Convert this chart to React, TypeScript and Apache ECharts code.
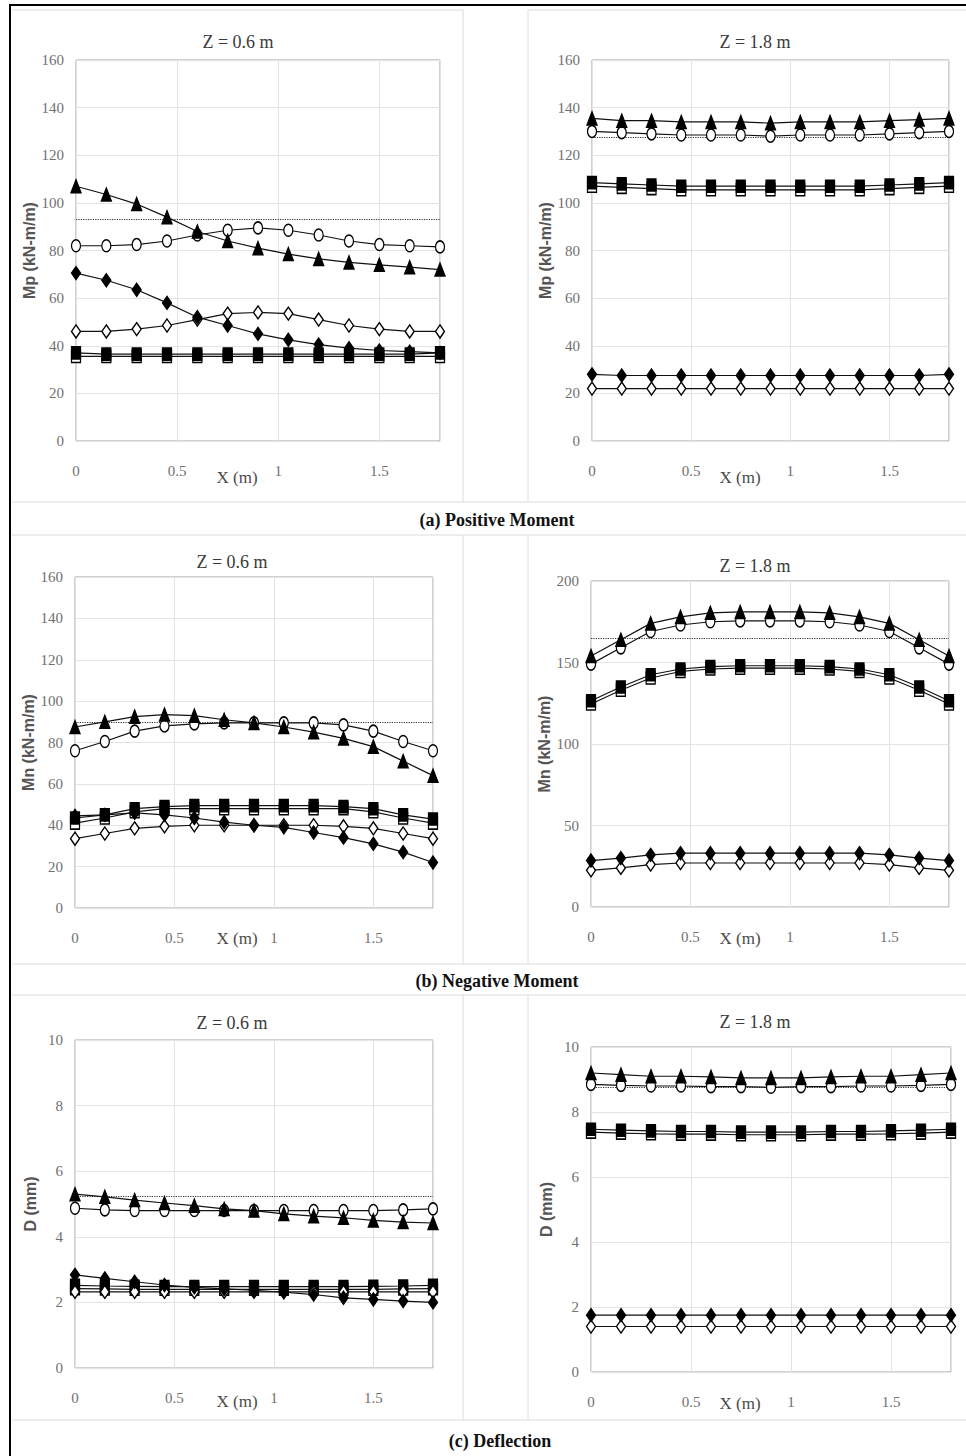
import React, { useEffect, useRef } from "react";
import * as echarts from "echarts";

// Positions along the slab (m)
const X_POS = [0, 0.15, 0.3, 0.45, 0.6, 0.75, 0.9, 1.05, 1.2, 1.35, 1.5, 1.65, 1.8];

// (a) Positive moment Mp, Z = 0.6 m
const mpZ06Tri = [107, 103.5, 99.5, 94, 88, 84, 81, 78.5, 76.5, 75, 74, 73, 72];
const mpZ06Cir = [82, 82, 82.5, 84, 86.5, 88.5, 89.5, 88.5, 86.5, 84, 82.5, 82, 81.5];
const mpZ06Sq = [37, 36.5, 36.5, 36.5, 36.5, 36.5, 36.5, 36.5, 36.5, 36.5, 36.5, 36.5, 37];
const mpZ06OSq = [35.5, 35.5, 35.5, 35.5, 35.5, 35.5, 35.5, 35.5, 35.5, 35.5, 35.5, 35.5, 35.5];
const mpZ06Dia = [70.5, 67.5, 63.5, 58, 52, 48.5, 45, 42.5, 40.5, 39, 38, 37.5, 37];
const mpZ06ODia = [46, 46, 47, 48.5, 51, 53.5, 54, 53.5, 51, 48.5, 47, 46, 46];
const mpZ06Ref = 93;

// (a) Positive moment Mp, Z = 1.8 m
const mpZ18Tri = [135.5, 134.5, 134.5, 134, 134, 134, 133.5, 134, 134, 134, 134.5, 135, 135.5];
const mpZ18Cir = [130, 129.5, 129, 128.5, 128.5, 128.5, 128, 128.5, 128.5, 128.5, 129, 129.5, 130];
const mpZ18Sq = [108.5, 108, 107.5, 107, 107, 107, 107, 107, 107, 107, 107.5, 108, 108.5];
const mpZ18OSq = [107, 106.5, 106, 105.5, 105.5, 105.5, 105.5, 105.5, 105.5, 105.5, 106, 106.5, 107];
const mpZ18Dia = [28, 27.5, 27.5, 27.5, 27.5, 27.5, 27.5, 27.5, 27.5, 27.5, 27.5, 27.5, 28];
const mpZ18ODia = [22, 22, 22, 22, 22, 22, 22, 22, 22, 22, 22, 22, 22];
const mpZ18Ref = 127.5;

// (b) Negative moment Mn, Z = 0.6 m
const mnZ06Tri = [87.5, 90, 92.5, 93.5, 93, 91, 89.5, 87.5, 85, 82, 78, 71, 64];
const mnZ06Cir = [76, 80.5, 85.5, 88, 89, 89.5, 89.5, 89.5, 89.5, 88.5, 85.5, 80.5, 76];
const mnZ06Sq = [43.5, 45, 48, 49, 49.5, 49.5, 49.5, 49.5, 49.5, 49, 48, 45, 43];
const mnZ06OSq = [41, 43.5, 46.5, 48, 48, 48, 48, 48, 48, 48, 46.5, 43.5, 41];
const mnZ06Dia = [44.5, 45, 46, 45, 43.5, 41.5, 40, 39, 36.5, 34, 31, 27, 22];
const mnZ06ODia = [33.5, 36, 38.5, 39.5, 40, 40, 40, 40, 40, 39.5, 38.5, 36, 33.5];
const mnZ06Ref = 90;

// (b) Negative moment Mn, Z = 1.8 m
const mnZ18Tri = [154, 164, 174, 178, 180.5, 181, 181, 181, 180.5, 178, 174, 164, 154];
const mnZ18Cir = [149, 159, 169, 173, 175, 175.5, 175.5, 175.5, 175, 173, 169, 159, 149];
const mnZ18Sq = [126.5, 135, 142.5, 146, 147.5, 148, 148, 148, 147.5, 146, 142.5, 135, 126.5];
const mnZ18OSq = [124.5, 133, 140.5, 144.5, 146, 146.5, 146.5, 146.5, 146, 144.5, 140.5, 133, 124.5];
const mnZ18Dia = [28.5, 30, 32, 33, 33, 33, 33, 33, 33, 33, 32, 30, 28.5];
const mnZ18ODia = [22.5, 24, 26, 27, 27, 27, 27, 27, 27, 27, 26, 24, 22.5];
const mnZ18Ref = 165;

// (c) Deflection D, Z = 0.6 m
const dZ06Tri = [5.3, 5.22, 5.12, 5.03, 4.95, 4.85, 4.8, 4.7, 4.63, 4.58, 4.5, 4.45, 4.42];
const dZ06Cir = [4.87, 4.82, 4.8, 4.8, 4.8, 4.8, 4.8, 4.8, 4.8, 4.8, 4.8, 4.82, 4.85];
const dZ06Sq = [2.52, 2.5, 2.49, 2.48, 2.48, 2.48, 2.48, 2.48, 2.48, 2.48, 2.49, 2.5, 2.52];
const dZ06OSq = [2.42, 2.41, 2.4, 2.4, 2.4, 2.4, 2.4, 2.4, 2.4, 2.4, 2.4, 2.41, 2.42];
const dZ06Dia = [2.84, 2.73, 2.63, 2.53, 2.46, 2.41, 2.37, 2.31, 2.24, 2.14, 2.09, 2.04, 2.0];
const dZ06ODia = [2.32, 2.32, 2.32, 2.32, 2.32, 2.32, 2.32, 2.32, 2.32, 2.32, 2.32, 2.32, 2.32];
const dZ06Ref = 5.25;

// (c) Deflection D, Z = 1.8 m
const dZ18Tri = [9.2, 9.15, 9.1, 9.1, 9.08, 9.05, 9.05, 9.05, 9.08, 9.1, 9.1, 9.15, 9.2];
const dZ18Cir = [8.85, 8.82, 8.8, 8.8, 8.78, 8.78, 8.76, 8.78, 8.78, 8.8, 8.8, 8.82, 8.85];
const dZ18Sq = [7.47, 7.44, 7.42, 7.4, 7.4, 7.38, 7.38, 7.38, 7.4, 7.4, 7.42, 7.44, 7.47];
const dZ18OSq = [7.38, 7.35, 7.33, 7.32, 7.32, 7.3, 7.3, 7.3, 7.32, 7.32, 7.33, 7.35, 7.38];
const dZ18Dia = [1.75, 1.75, 1.75, 1.75, 1.75, 1.75, 1.75, 1.75, 1.75, 1.75, 1.75, 1.75, 1.75];
const dZ18ODia = [1.4, 1.4, 1.4, 1.4, 1.4, 1.4, 1.4, 1.4, 1.4, 1.4, 1.4, 1.4, 1.4];
const dZ18Ref = 8.75;

const X_TICKS_INTERVAL = 0.5;
const X_MAX = 1.8;

const FONT = "'Liberation Serif', 'Times New Roman', serif";
const ELLIPSE =
  "path://M0,-1C0.552,-1,1,-0.552,1,0C1,0.552,0.552,1,0,1C-0.552,1,-1,0.552,-1,0C-1,-0.552,-0.552,-1,0,-1Z";

const KINDS: Record<string, { symbol: string; size: number[]; fill: string }> = {
  osq: { symbol: "rect", size: [9, 12], fill: "#fff" },
  sq: { symbol: "rect", size: [9, 12], fill: "#000" },
  odia: { symbol: "diamond", size: [9, 13], fill: "#fff" },
  dia: { symbol: "diamond", size: [9, 13], fill: "#000" },
  cir: { symbol: ELLIPSE, size: [9, 12], fill: "#fff" },
  tri: { symbol: "triangle", size: [10, 13], fill: "#000" },
};

const PANELS = [
  {
    grid: { left: 76, top: 60, width: 364, height: 381 },
    yMax: 160, yInt: 20, yName: "Mp (kN-m/m)", title: "Z = 0.6 m",
    titlePos: [238, 42], xNamePos: [237, 477], ref: mpZ06Ref,
    data: { osq: mpZ06OSq, sq: mpZ06Sq, odia: mpZ06ODia, dia: mpZ06Dia, cir: mpZ06Cir, tri: mpZ06Tri },
  },
  {
    grid: { left: 592, top: 60, width: 357, height: 381 },
    yMax: 160, yInt: 20, yName: "Mp (kN-m/m)", title: "Z = 1.8 m",
    titlePos: [755, 42], xNamePos: [740, 477], ref: mpZ18Ref,
    data: { osq: mpZ18OSq, sq: mpZ18Sq, odia: mpZ18ODia, dia: mpZ18Dia, cir: mpZ18Cir, tri: mpZ18Tri },
  },
  {
    grid: { left: 75, top: 577, width: 358, height: 331 },
    yMax: 160, yInt: 20, yName: "Mn (kN-m/m)", title: "Z = 0.6 m",
    titlePos: [232, 562], xNamePos: [237, 938], ref: mnZ06Ref,
    data: { osq: mnZ06OSq, sq: mnZ06Sq, odia: mnZ06ODia, dia: mnZ06Dia, cir: mnZ06Cir, tri: mnZ06Tri },
  },
  {
    grid: { left: 591, top: 581, width: 358, height: 326 },
    yMax: 200, yInt: 50, yName: "Mn (kN-m/m)", title: "Z = 1.8 m",
    titlePos: [755, 566], xNamePos: [740, 938], ref: mnZ18Ref,
    data: { osq: mnZ18OSq, sq: mnZ18Sq, odia: mnZ18ODia, dia: mnZ18Dia, cir: mnZ18Cir, tri: mnZ18Tri },
  },
  {
    grid: { left: 75, top: 1040, width: 358, height: 328 },
    yMax: 10, yInt: 2, yName: "D (mm)", title: "Z = 0.6 m",
    titlePos: [232, 1023], xNamePos: [237, 1401], ref: dZ06Ref,
    data: { osq: dZ06OSq, sq: dZ06Sq, odia: dZ06ODia, dia: dZ06Dia, cir: dZ06Cir, tri: dZ06Tri },
  },
  {
    grid: { left: 591, top: 1047, width: 360, height: 325 },
    yMax: 10, yInt: 2, yName: "D (mm)", title: "Z = 1.8 m",
    titlePos: [755, 1022], xNamePos: [740, 1403], ref: dZ18Ref,
    data: { osq: dZ18OSq, sq: dZ18Sq, odia: dZ18ODia, dia: dZ18Dia, cir: dZ18Cir, tri: dZ18Tri },
  },
];

const CAPTIONS = [
  { text: "(a) Positive Moment", x: 497, y: 520 },
  { text: "(b) Negative Moment", x: 497, y: 981 },
  { text: "(c) Deflection", x: 500, y: 1441 },
];

function buildOption() {
  const grid: any[] = [];
  const xAxis: any[] = [];
  const yAxis: any[] = [];
  const series: any[] = [];
  const graphic: any[] = [];

  PANELS.forEach((p, i) => {
    grid.push({
      ...p.grid,
      show: true,
      borderColor: "#a0a0a0",
      borderWidth: 1,
      backgroundColor: "transparent",
    });
    xAxis.push({
      type: "value",
      gridIndex: i,
      min: 0,
      max: X_MAX,
      interval: X_TICKS_INTERVAL,
      axisLine: { show: false },
      axisTick: { show: false },
      axisLabel: {
        margin: 22,
        color: "#707070",
        fontFamily: FONT,
        fontSize: 15,
        showMaxLabel: false,
      },
      splitLine: { show: true, lineStyle: { color: "#e3e3e3", width: 1 } },
    });
    yAxis.push({
      type: "value",
      gridIndex: i,
      min: 0,
      max: p.yMax,
      interval: p.yInt,
      name: p.yName,
      nameLocation: "middle",
      nameRotate: 90,
      nameGap: 37,
      nameTextStyle: {
        fontFamily: "'Liberation Sans', Arial, sans-serif",
        fontWeight: "bold",
        fontSize: 16,
        color: "#555",
      },
      axisLine: { show: false },
      axisTick: { show: false },
      axisLabel: { margin: 12, color: "#707070", fontFamily: FONT, fontSize: 15 },
      splitLine: { show: true, lineStyle: { color: "#e3e3e3", width: 1 } },
    });

    Object.keys(KINDS).forEach((k, j) => {
      const kind = KINDS[k];
      const vals: number[] = (p.data as any)[k];
      const s: any = {
        type: "line",
        name: `${p.yName} ${p.title} ${k}`,
        xAxisIndex: i,
        yAxisIndex: i,
        data: X_POS.map((x, idx) => [x, vals[idx]]),
        symbol: kind.symbol,
        symbolSize: kind.size,
        showAllSymbol: true,
        lineStyle: { color: "#111", width: 1.2 },
        itemStyle: { color: kind.fill, borderColor: "#000", borderWidth: 1.4 },
        z: 3 + j,
      };
      if (j === 0) {
        s.markLine = {
          silent: true,
          symbol: "none",
          label: { show: false },
          lineStyle: { type: "dotted", color: "#333", width: 1.2 },
          data: [{ yAxis: p.ref }],
        };
      }
      series.push(s);
    });

    graphic.push({
      type: "text",
      x: p.titlePos[0],
      y: p.titlePos[1],
      style: {
        text: p.title,
        fill: "#3a3a3a",
        font: `18px ${FONT}`,
        textAlign: "center",
        textVerticalAlign: "middle",
      },
    });
    graphic.push({
      type: "text",
      x: p.xNamePos[0],
      y: p.xNamePos[1],
      style: {
        text: "X (m)",
        fill: "#4a4a4a",
        font: `17px ${FONT}`,
        textAlign: "center",
        textVerticalAlign: "middle",
      },
    });
  });

  // faint chart-area / table lines
  const faint = { stroke: "#dcdcdc", lineWidth: 1 };
  [502, 535, 964, 995, 1420].forEach((y) =>
    graphic.push({ type: "line", shape: { x1: 12, y1: y, x2: 966, y2: y }, style: faint })
  );
  [
    [10, 502],
    [535, 964],
    [995, 1420],
  ].forEach(([y1, y2]) => {
    graphic.push({ type: "line", shape: { x1: 463, y1, x2: 463, y2 }, style: faint });
    graphic.push({ type: "line", shape: { x1: 528, y1, x2: 528, y2 }, style: faint });
  });
  graphic.push({ type: "line", shape: { x1: 528, y1: 10, x2: 966, y2: 10 }, style: faint });
  graphic.push({ type: "line", shape: { x1: 12, y1: 10, x2: 463, y2: 10 }, style: faint });

  // outer black frame
  graphic.push({
    type: "line",
    shape: { x1: 9, y1: 5, x2: 966, y2: 5 },
    style: { stroke: "#000", lineWidth: 2 },
  });
  graphic.push({
    type: "line",
    shape: { x1: 10, y1: 5, x2: 10, y2: 1456 },
    style: { stroke: "#000", lineWidth: 2 },
  });

  CAPTIONS.forEach((c) =>
    graphic.push({
      type: "text",
      x: c.x,
      y: c.y,
      style: {
        text: c.text,
        fill: "#111",
        font: `bold 18px ${FONT}`,
        textAlign: "center",
        textVerticalAlign: "middle",
      },
    })
  );

  return {
    animation: false,
    backgroundColor: "#fff",
    grid,
    xAxis,
    yAxis,
    series,
    graphic,
  };
}

export default function App() {
  const ref = useRef<HTMLDivElement>(null);
  useEffect(() => {
    if (!ref.current) return;
    const chart = echarts.init(ref.current, undefined, { renderer: "svg" });
    chart.setOption(buildOption() as any);
    return () => chart.dispose();
  }, []);
  return (
    <div
      ref={ref}
      style={{ position: "absolute", left: 0, top: 0, width: 966, height: 1456 }}
    />
  );
}
